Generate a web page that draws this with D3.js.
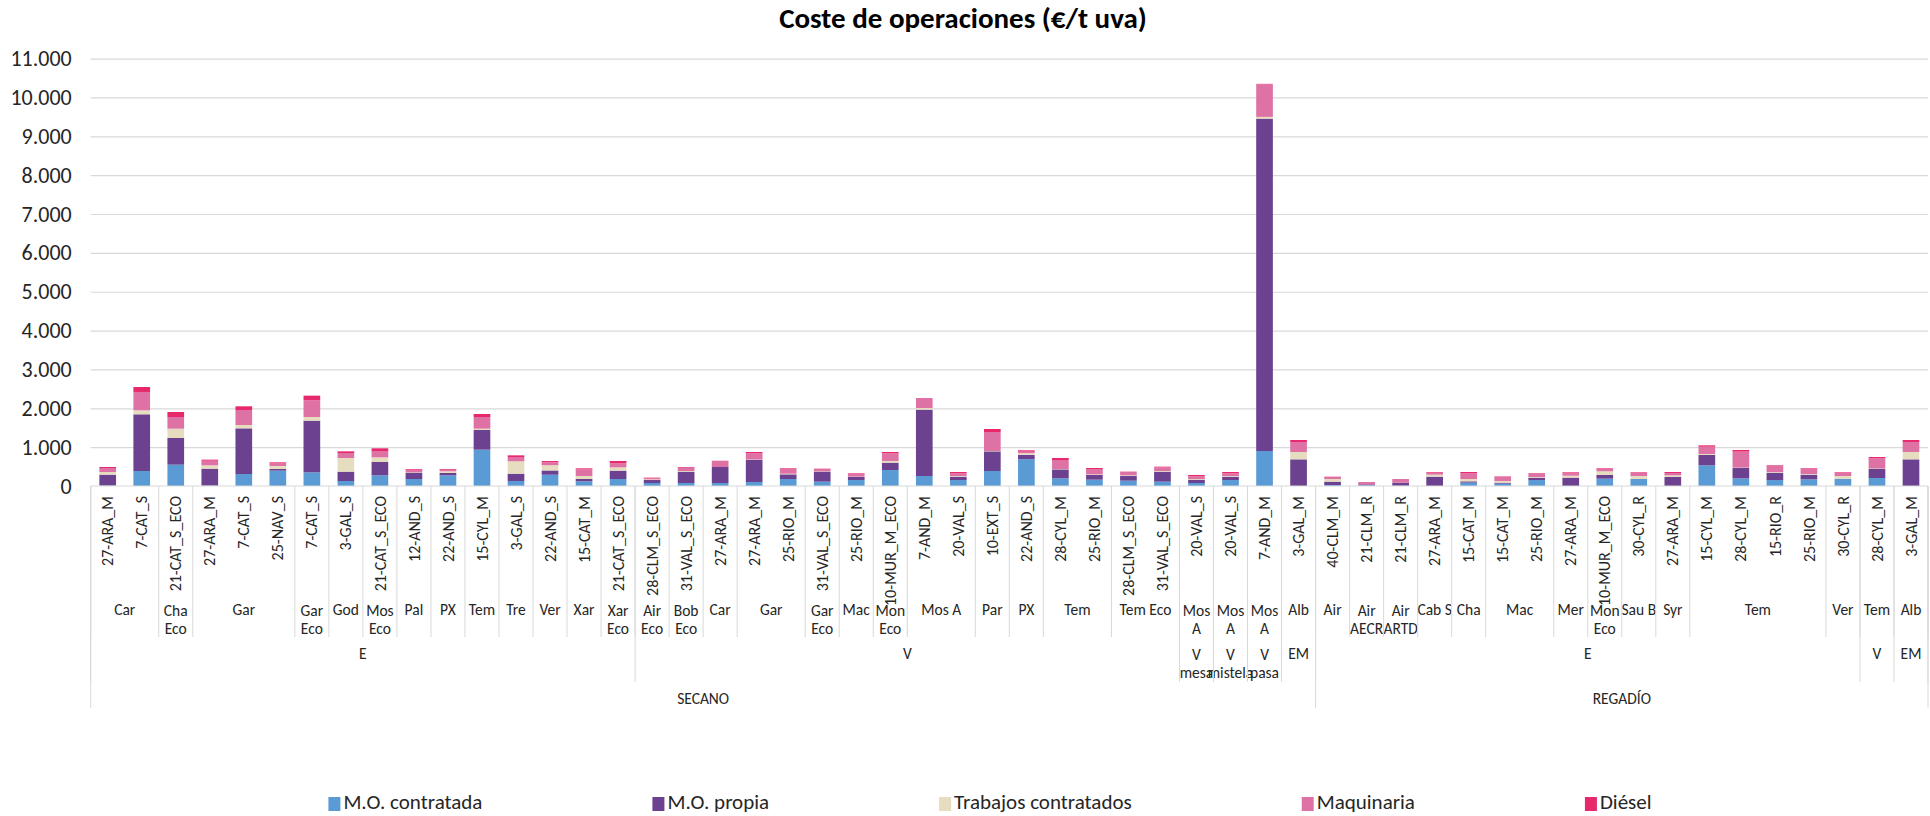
<!DOCTYPE html>
<meta charset="utf-8">
<style>
    body { margin: 0; background: #fff; }
    svg text { font-family: Carlito, Calibri, Lato, sans-serif; fill: #262626; }
    .grid line { stroke: #d9d9d9; stroke-width: 1.2px; }
    .sep { stroke: #d9d9d9; stroke-width: 1px; }
</style>
<title>Coste de operaciones</title>
<script src="https://d3js.org/d3.v7.min.js"></script>
<body>
<div id="chart"></div>
<script>
    // bar labels (level 1 of the category axis)
    var barLabels = ["27-ARA_M","7-CAT_S","21-CAT_S_ECO","27-ARA_M","7-CAT_S","25-NAV_S","7-CAT_S","3-GAL_S","21-CAT_S_ECO","12-AND_S",
        "22-AND_S","15-CYL_M","3-GAL_S","22-AND_S","15-CAT_M","21-CAT_S_ECO","28-CLM_S_ECO","31-VAL_S_ECO","27-ARA_M","27-ARA_M",
        "25-RIO_M","31-VAL_S_ECO","25-RIO_M","10-MUR_M_ECO","7-AND_M","20-VAL_S","10-EXT_S","22-AND_S","28-CYL_M","25-RIO_M",
        "28-CLM_S_ECO","31-VAL_S_ECO","20-VAL_S","20-VAL_S","7-AND_M","3-GAL_M","40-CLM_M","21-CLM_R","21-CLM_R","27-ARA_M",
        "15-CAT_M","15-CAT_M","25-RIO_M","27-ARA_M","10-MUR_M_ECO","30-CYL_R","27-ARA_M","15-CYL_M","28-CYL_M","15-RIO_R",
        "25-RIO_M","30-CYL_R","28-CYL_M","3-GAL_M"];

    // level 2: variety, [label, number of bars]
    var varietyGroups = [["Car",2],["Cha Eco",1],["Gar",3],["Gar Eco",1],["God",1],["Mos Eco",1],["Pal",1],["PX",1],["Tem",1],["Tre",1],["Ver",1],["Xar",1],["Xar Eco",1],
        ["Air Eco",1],["Bob Eco",1],["Car",1],["Gar",2],["Gar Eco",1],["Mac",1],["Mon Eco",1],["Mos A",2],["Par",1],["PX",1],["Tem",2],["Tem Eco",2],
        ["Mos A",1],["Mos A",1],["Mos A",1],["Alb",1],
        ["Air",1],["Air AECR",1],["Air ARTD",1],["Cab S",1],["Cha",1],["Mac",2],["Mer",1],["Mon Eco",1],["Sau B",1],["Syr",1],["Tem",4],["Ver",1],
        ["Tem",1],["Alb",1]];
    // level 3: wine type
    var typeGroups = [["E",16],["V",16],["V mesa",1],["V mistela",1],["V pasa",1],["EM",1],["E",16],["V",1],["EM",1]];
    // level 4
    var systemGroups = [["SECANO",36],["REGADÍO",18]];

    var seriesNames = ["M.O. contratada","M.O. propia","Trabajos contratados","Maquinaria","Diésel"];
    var seriesColors = ["#5b9bd5","#6b4190","#e6dcbf","#de72a5","#e8286d"];

    var moContratada = [15,386,549,10,309,395,352,129,275,180, 275,935,129,290,120,180,77,77,77,103,
        180,112,154,412,257,154,386,690,197,163, 137,112,77,154,901,0,26,17,5,0,
        86,60,154,0,189,180,0,532,197,154, 172,180,206,0];
    var moPropia = [277,1459,687,436,1175,43,1330,240,343,163, 60,506,188,110,60,215,77,292,412,575,
        120,257,78,189,1708,86,506,110,232,120, 120,257,86,86,8554,686,86,26,81,240,
        34,26,61,215,94,0,232,266,266,189, 120,0,240,686];
    var trabajos = [68,103,240,86,86,77,94,352,120,10, 43,35,318,135,77,85,18,17,0,8,
        17,8,8,43,43,17,9,45,9,17, 18,17,17,17,45,189,68,0,0,52,
        60,43,17,51,95,77,43,26,9,17, 17,77,9,189];
    var maquinaria = [103,472,300,120,386,68,429,128,163,67, 42,300,111,72,172,103,25,86,163,155,
        121,61,86,197,257,69,489,40,231,138, 85,94,69,69,840,258,52,60,94,51,
        146,111,94,60,60,78,60,188,412,172, 129,78,257,258];
    var diesel = [26,128,129,26,95,26,120,43,69,18, 18,77,43,35,26,61,18,17,0,34,
        17,8,9,34,0,34,77,34,52,25, 9,18,34,34,10,51,8,0,0,17,
        34,9,9,26,17,17,25,35,43,9, 17,17,34,51];

    var yTicks = d3.range(0, 11001, 1000);

    var canvasWidth = 1930, canvasHeight = 816;
    var margin = {top: 58.6, right: 2, bottom: 330, left: 90.7};
    var plotBottom = 486;

    var svg = d3.select("#chart").append("svg")
        .attr("width", canvasWidth)
        .attr("height", canvasHeight);

    var table = barLabels.map(function(lab, i) {
        return {i: i, label: lab, "M.O. contratada": moContratada[i], "M.O. propia": moPropia[i],
            "Trabajos contratados": trabajos[i], "Maquinaria": maquinaria[i], "Diésel": diesel[i]};
    });

    var x = d3.scaleBand()
        .domain(d3.range(barLabels.length))
        .range([margin.left, canvasWidth - margin.right])
        .paddingInner(0.51)
        .paddingOuter(0.255);
    var step = x.step();
    var x0 = margin.left;

    var y = d3.scaleLinear().domain([0, 11000]).range([plotBottom, margin.top]);

    var locale = d3.formatLocale({decimal: ",", thousands: ".", grouping: [3], currency: ["", "€"]});
    var fmt = locale.format(",");

    // title
    svg.append("text")
        .attr("x", 963).attr("y", 21)
        .attr("text-anchor", "middle")
        .attr("dominant-baseline", "middle")
        .style("font-size", "29px").style("font-weight", "bold")
        .style("fill", "#000")
        .text("Coste de operaciones (€/t uva)");

    // y axis + gridlines
    var yAxis = svg.append("g")
        .attr("class", "grid")
        .attr("transform", "translate(" + x0 + ",0)")
        .call(d3.axisLeft(y).tickValues(yTicks).tickFormat(fmt)
            .tickSize(-(canvasWidth - margin.right - x0)).tickPadding(19));
    yAxis.select(".domain").remove();
    yAxis.selectAll("text").style("font-size", "22px").style("fill", "#262626");
    yAxis.selectAll(".tick").filter(function(d) { return d === 0; }).select("line").remove();

    // stacked bars
    var stack = d3.stack().keys(seriesNames);
    var layers = stack(table);

    svg.append("g").selectAll("g")
        .data(layers)
        .enter().append("g")
        .attr("fill", function(d, k) { return seriesColors[k]; })
        .selectAll("rect")
        .data(function(d) { return d; })
        .enter().append("rect")
        .attr("x", function(d, i) { return x(i); })
        .attr("width", x.bandwidth())
        .attr("y", function(d) { return y(d[1]); })
        .attr("height", function(d) { return Math.max(0, y(d[0]) - y(d[1])); });

    // category axis line
    svg.append("line").attr("class", "sep")
        .attr("x1", x0).attr("x2", canvasWidth - margin.right)
        .attr("y1", plotBottom).attr("y2", plotBottom);

    // level 1 labels (rotated)
    svg.append("g").selectAll("text")
        .data(barLabels)
        .enter().append("text")
        .attr("transform", function(d, i) { return "translate(" + (x(i) + x.bandwidth() / 2) + ",496) rotate(-90)"; })
        .attr("text-anchor", "end")
        .attr("dy", "0.35em")
        .style("font-size", "16px")
        .text(function(d) { return d; });

    function drawLevel(groups, firstY, lineBottom, fontSize) {
        var g = svg.append("g");
        var start = 0;
        var bounds = [0];
        groups.forEach(function(gr) {
            var label = gr[0], n = gr[1];
            var cx = x0 + step * (start + n / 2);
            var avail = step * n;
            var t = g.append("text")
                .attr("x", cx).attr("y", firstY)
                .attr("text-anchor", "middle")
                .attr("dominant-baseline", "middle")
                .style("font-size", fontSize + "px")
                .text(label);
            if (t.node().getComputedTextLength() > avail + 4 && label.indexOf(" ") > 0) {
                var words = label.split(" ");
                t.text(null);
                words.forEach(function(w, k) {
                    t.append("tspan").attr("x", cx).attr("y", firstY + k * 18.3).text(w);
                });
            }
            start += n;
            bounds.push(start);
        });
        g.selectAll("line")
            .data(bounds)
            .enter().append("line")
            .attr("class", "sep")
            .attr("x1", function(d) { return x0 + step * d; })
            .attr("x2", function(d) { return x0 + step * d; })
            .attr("y1", plotBottom).attr("y2", lineBottom);
    }

    drawLevel(varietyGroups, 611.7, 637, 15.5);
    drawLevel(typeGroups, 655.7, 682, 15.5);
    drawLevel(systemGroups, 700, 708, 15.5);

    // legend
    var legend = svg.append("g");
    var lx = 0;
    seriesNames.forEach(function(name, k) {
        var it = legend.append("g").attr("transform", "translate(" + lx + ",0)");
        it.append("rect").attr("x", 0).attr("y", -7).attr("width", 12).attr("height", 14)
            .attr("fill", seriesColors[k]);
        var t = it.append("text").attr("x", 15).attr("y", 0)
            .attr("dominant-baseline", "middle")
            .style("font-size", "21px")
            .text(name);
        var w = 15 + t.node().getComputedTextLength();
        lx += w + (k < seriesNames.length - 1 ? 170 : 0);
    });
    legend.attr("transform", "translate(" + (990 - lx / 2) + ",804)");
</script>
</body>
